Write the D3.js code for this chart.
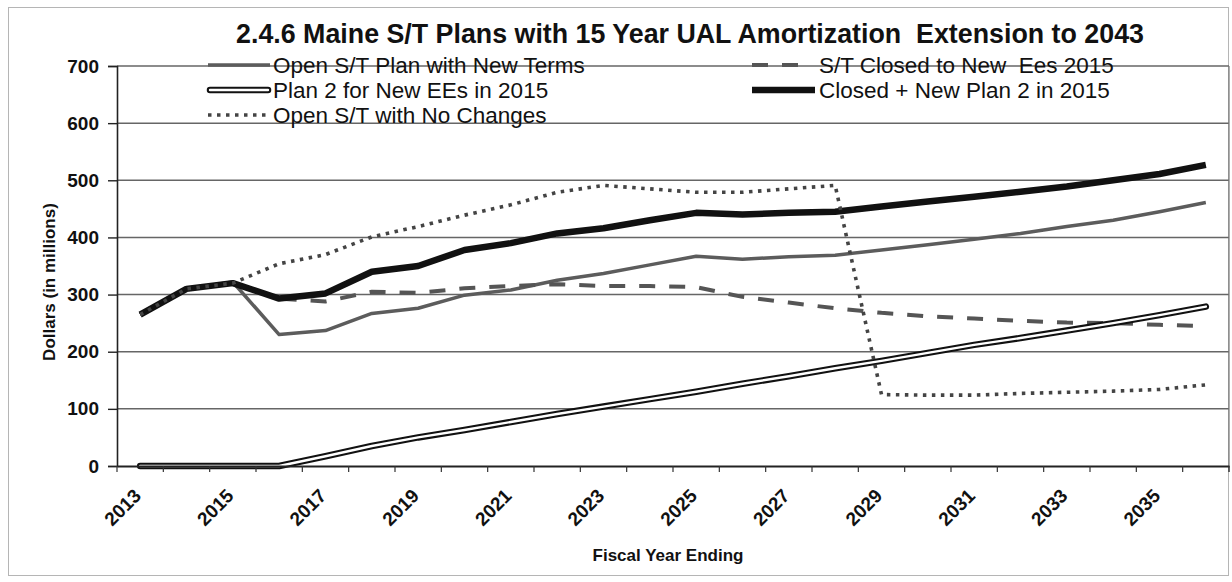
<!DOCTYPE html>
<html>
<head>
<meta charset="utf-8">
<script src="https://d3js.org/d3.v7.min.js"></script>
<style>
  html, body { margin: 0; padding: 0; background: #fff; }
  svg { display: block; }
  text { font-family: "Liberation Sans", Arial, sans-serif; fill: #111; white-space: pre; }
</style>
</head>
<body>
<svg id="chart" width="1232" height="582"></svg>
<script>
// ---------- data ----------
const years = [2013, 2014, 2015, 2016, 2017, 2018, 2019, 2020, 2021, 2022, 2023, 2024,
               2025, 2026, 2027, 2028, 2029, 2030, 2031, 2032, 2033, 2034, 2035, 2036];
const labeledYears = [2013, 2015, 2017, 2019, 2021, 2023, 2025, 2027, 2029, 2031, 2033, 2035];
const yTicks = [0, 100, 200, 300, 400, 500, 600, 700];

const openNewTerms = [265, 310, 322, 230, 237, 267, 276, 299, 308, 325, 337, 352,
                      367, 362, 366, 369, 378, 387, 397, 407, 419, 430, 445, 461];
const closedST     = [265, 310, 320, 293, 288, 305, 303, 311, 315, 318, 315, 315,
                      313, 296, 286, 276, 268, 262, 258, 254, 251, 250, 247, 245];
const plan2New     = [0, 0, 0, 0, 17, 35, 50, 63, 77, 91, 104, 117,
                      130, 144, 157, 171, 184, 198, 212, 224, 237, 250, 264, 279];
const closedPlan2  = [265, 310, 320, 293, 302, 340, 350, 378, 390, 407, 416, 430,
                      443, 440, 443, 445, 454, 463, 471, 480, 489, 500, 511, 527];
const noChanges    = [265, 310, 320, 354, 370, 401, 419, 439, 457, 479, 491, 485,
                      479, 479, 485, 491, 125, 124, 124, 127, 129, 131, 134, 142];

const seriesNames = ["Open S/T Plan with New Terms", "S/T Closed to New  Ees 2015",
                     "Plan 2 for New EEs in 2015", "Closed + New Plan 2 in 2015",
                     "Open S/T with No Changes"];
const titleText = "2.4.6 Maine S/T Plans with 15 Year UAL Amortization  Extension to 2043";

// ---------- layout ----------
const svg = d3.select("#chart");
const pL = 117, pR = 1229, pT = 66, pB = 466;

const x = d3.scaleBand().domain(years).range([pL, pR]).padding(0);
const cx = d => x(d) + x.bandwidth() / 2;
const y = d3.scaleLinear().domain([0, 700]).range([pB, pT]);

// outer frame
svg.append("rect").attr("x", 8.5).attr("y", 7.5).attr("width", 1220).attr("height", 568)
  .attr("fill", "none").attr("stroke", "#b5b5b5").attr("stroke-width", 1);

// gridlines
svg.append("g").selectAll("line").data(yTicks.filter(v => v > 0)).join("line")
  .attr("x1", pL).attr("x2", pR)
  .attr("y1", d => y(d)).attr("y2", d => y(d))
  .attr("stroke", "#666").attr("stroke-width", 1.5);

// right plot edge
svg.append("line").attr("x1", pR).attr("x2", pR).attr("y1", pT).attr("y2", pB + 6)
  .attr("stroke", "#777").attr("stroke-width", 1.2);

// ---------- series ----------
const line = d3.line().x((d, i) => cx(years[i])).y(d => y(d));

const styles = [
  { data: openNewTerms, layers: [{ stroke: "#5c5c5c", width: 3.5 }] },
  { data: closedST,     layers: [{ stroke: "#555", width: 4, dash: "16,14" }] },
  { data: plan2New,     layers: [{ stroke: "#111", width: 6.5, cap: "round" }, { stroke: "#fff", width: 2.4, cap: "round" }] },
  { data: closedPlan2,  layers: [{ stroke: "#111", width: 6.5 }] },
  { data: noChanges,    layers: [{ stroke: "#444", width: 3.6, dash: "3.5,5.5" }] }
];

const plot = svg.append("g");
styles.forEach(s => {
  s.layers.forEach(l => {
    plot.append("path").datum(s.data).attr("d", line)
      .attr("fill", "none").attr("stroke", l.stroke).attr("stroke-width", l.width)
      .attr("stroke-linejoin", "round").attr("stroke-linecap", l.cap || "butt")
      .attr("stroke-dasharray", l.dash || null);
  });
});

// y axis
const yAxis = svg.append("g").attr("transform", `translate(${pL},0)`)
  .call(d3.axisLeft(y).tickValues(yTicks).tickSize(9).tickPadding(9).tickFormat(d3.format("d")));
yAxis.select(".domain").attr("stroke", "#222").attr("stroke-width", 1.6);
yAxis.selectAll(".tick line").attr("stroke", "#222").attr("stroke-width", 1.4);
yAxis.selectAll(".tick text").attr("font-size", 19).attr("font-weight", "bold")
  .attr("font-family", "Liberation Sans, Arial, sans-serif").attr("fill", "#111");

// x axis (drawn above the series, as in the original)
const xAxis = svg.append("g").attr("transform", `translate(0,${pB})`)
  .call(d3.axisBottom(x).tickValues(labeledYears).tickSize(0).tickPadding(0));
xAxis.select(".domain").attr("stroke", "#222").attr("stroke-width", 2.2);
xAxis.selectAll(".tick text")
  .attr("font-size", 19).attr("font-weight", "bold")
  .attr("font-family", "Liberation Sans, Arial, sans-serif").attr("fill", "#111")
  .attr("text-anchor", "end")
  .attr("dy", 0).attr("y", 0)
  .attr("transform", "translate(2,31) rotate(-45)");
// category boundary ticks
const boundaries = years.map(d => x(d)).concat([pR]);
svg.append("g").selectAll("line").data(boundaries).join("line")
  .attr("x1", d => d).attr("x2", d => d)
  .attr("y1", pB).attr("y2", pB + 6)
  .attr("stroke", "#333").attr("stroke-width", 1.2);

// axis titles
svg.append("text").attr("transform", "translate(55,282) rotate(-90)")
  .attr("text-anchor", "middle").attr("font-size", 17).attr("font-weight", "bold")
  .text("Dollars (in millions)");
svg.append("text").attr("x", 668).attr("y", 561)
  .attr("text-anchor", "middle").attr("font-size", 17).attr("font-weight", "bold")
  .text("Fiscal Year Ending");

// title
svg.append("text").attr("x", 690).attr("y", 43)
  .attr("text-anchor", "middle").attr("font-size", 26.8).attr("font-weight", "bold")
  .text(titleText);

// ---------- legend ----------
const legendItems = [
  { s: 0, x1: 208, x2: 270, tx: 273, ty: 65 },
  { s: 2, x1: 210, x2: 268, tx: 273, ty: 90 },
  { s: 4, x1: 208, x2: 270, tx: 273, ty: 115 },
  { s: 1, x1: 752, x2: 800, tx: 819, ty: 65 },
  { s: 3, x1: 752, x2: 815, tx: 819, ty: 90 }
];
const lg = svg.append("g");
legendItems.forEach(it => {
  styles[it.s].layers.forEach(l => {
    lg.append("line").attr("x1", it.x1).attr("x2", it.x2).attr("y1", it.ty).attr("y2", it.ty)
      .attr("stroke", l.stroke).attr("stroke-width", l.width)
      .attr("stroke-linecap", l.cap || "butt")
      .attr("stroke-dasharray", l.dash || null);
  });
  lg.append("text").attr("x", it.tx).attr("y", it.ty).attr("dy", "0.36em")
    .attr("font-size", 22.5).text(seriesNames[it.s]);
});
</script>
</body>
</html>
